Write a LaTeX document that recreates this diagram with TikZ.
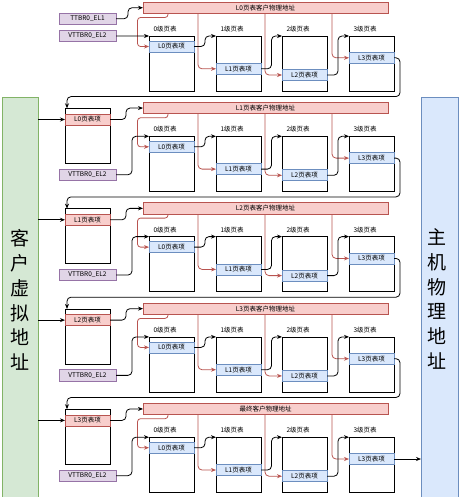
\documentclass[tikz,border=0pt]{standalone}
\usepackage{fontspec}
\setmainfont{Noto Sans CJK SC}
\usetikzlibrary{arrows.meta,calc}
\definecolor{pinkfill}{HTML}{F8CECC}
\definecolor{pinkline}{HTML}{B85450}
\definecolor{bluefill}{HTML}{DAE8FC}
\definecolor{blueline}{HTML}{6C8EBF}
\definecolor{purplefill}{HTML}{E1D5E7}
\definecolor{purpleline}{HTML}{9673A6}
\definecolor{greenfill}{HTML}{D5E8D4}
\definecolor{greenline}{HTML}{82B366}
\begin{document}
\begin{tikzpicture}[x=1pt,y=-1pt,
  every node/.style={inner sep=0pt,outer sep=0pt,font=\fontsize{6.5}{7.5}\selectfont},
  box/.style={draw,anchor=north west,line width=0.8pt},
  tbl/.style={box,draw=black,fill=white,minimum width=45pt,minimum height=55pt},
  bent/.style={box,draw=blueline,fill=bluefill,minimum width=45pt,minimum height=11pt},
  pent/.style={box,draw=pinkline,fill=pinkfill,minimum width=45pt,minimum height=11pt},
  pbar/.style={box,draw=pinkline,fill=pinkfill,minimum width=245pt,minimum height=11.5pt},
  reg/.style={box,draw=purpleline,fill=purplefill,minimum width=57pt,minimum height=11.5pt},
  tlab/.style={anchor=west},
  bigtxt/.style={font=\fontsize{19}{24.7}\selectfont,align=center},
  blk/.style={draw=black,line width=0.8pt,rounded corners=4pt,-{Stealth[length=5pt,width=4pt]}},
  pnk/.style={draw=pinkline,line width=0.8pt,rounded corners=4pt,-{Stealth[length=5pt,width=4pt]}},
]
\useasboundingbox (0,0) rectangle (460,497);

% side boxes
\node[box,draw=greenline,fill=greenfill,minimum width=36pt,minimum height=402pt] (gva) at (2,97) {};
\node[box,draw=blueline,fill=bluefill,minimum width=37pt,minimum height=402pt] (hpa) at (421,97) {};
\node[bigtxt] (gvat) at (20,300) {客\\户\\虚\\拟\\地\\址};
\node[bigtxt] (hpat) at (437,299) {主\\机\\物\\理\\地\\址};

% sections
\foreach \k/\bl in {0/L0页表客户物理地址,1/L1页表客户物理地址,2/L2页表客户物理地址,3/L3页表客户物理地址,4/最终客户物理地址}{
  \pgfmathsetmacro\o{100.3*\k}
  \node[pbar] (B\k) at (143,2+\o) {\bl};
  \node[tbl] (TA\k) at (149,36+\o) {};
  \node[tbl] (TB\k) at (216,36+\o) {};
  \node[tbl] (TC\k) at (282,36+\o) {};
  \node[tbl] (TD\k) at (349,36+\o) {};
  \node[tlab] (LA\k) at ($(TA\k.north west)+(4.5,-7)$) {0级页表};
  \node[tlab] (LB\k) at ($(TB\k.north west)+(4.5,-7)$) {1级页表};
  \node[tlab] (LC\k) at ($(TC\k.north west)+(4.5,-7)$) {2级页表};
  \node[tlab] (LD\k) at ($(TD\k.north west)+(4.5,-7)$) {3级页表};
  \node[bent] (EA\k) at (149,41+\o) {L0页表项};
  \node[bent] (EB\k) at (216,63.3+\o) {L1页表项};
  \node[bent] (EC\k) at (282,69.5+\o) {L2页表项};
  \node[bent] (ED\k) at (349,52.3+\o) {L3页表项};
  % pink
  \draw[pnk,rounded corners=3pt] ($(B\k.south west)+(25,0)$) -- ++(0,4) -| ($(EA\k.west)+(-11.5,0)$) -- (EA\k.west);
  \draw[pnk] ($(B\k.south west)+(55,0)$) |- (EB\k.west);
  \draw[pnk] ($(B\k.south west)+(122,0)$) |- (EC\k.west);
  \draw[pnk] ($(B\k.south west)+(189,0)$) |- (ED\k.west);
  % black
  \draw[blk] (EA\k.east) -- ++(11,0) |- (TB\k.north west);
  \draw[blk] (EB\k.east) -- ++(10.5,0) |- (TC\k.north west);
  \draw[blk] (EC\k.east) -- ++(11,0) |- (TD\k.north west);
}

% section 0 registers
\node[reg] (TT0) at (59,13) {TTBR0\_EL1};
\node[reg] (V0) at (59,30.3) {VTTBR0\_EL2};
\draw[blk] (TT0.east) -- ++(12,0) |- (B0.west);
\draw[blk] (V0.east) -- (TA0.north west);

% guest tables
\foreach \k/\gl in {1/L0页表项,2/L1页表项,3/L2页表项,4/L3页表项}{
  \pgfmathsetmacro\o{100.3*\k}
  \node[tbl] (G\k) at (65,8+\o) {};
  \node[pent] (GE\k) at (65,13.7+\o) {\gl};
  \node[reg] (V\k) at (59,68.7+\o) {VTTBR0\_EL2};
  \draw[blk] (gva.east |- GE\k.west) -- (GE\k.west);
  \draw[blk] (GE\k.east) -- ++(16,0) |- (B\k.west);
  \draw[blk] (V\k.east) -- ++(16,0) |- (TA\k.north west);
}

% loops to next section
\foreach \k in {0,...,3}{
  \pgfmathtruncatemacro\n{\k+1}
  \pgfmathsetmacro\o{100.3*\k}
  \coordinate (R\k) at (400,96.6+\o);
  \draw[blk] (ED\k.east) -| (R\k) -| ($(G\n.north west)+(2,0)$);
}
\draw[blk] (ED4.east) -- (hpa.west |- ED4.east);
\end{tikzpicture}
\end{document}
